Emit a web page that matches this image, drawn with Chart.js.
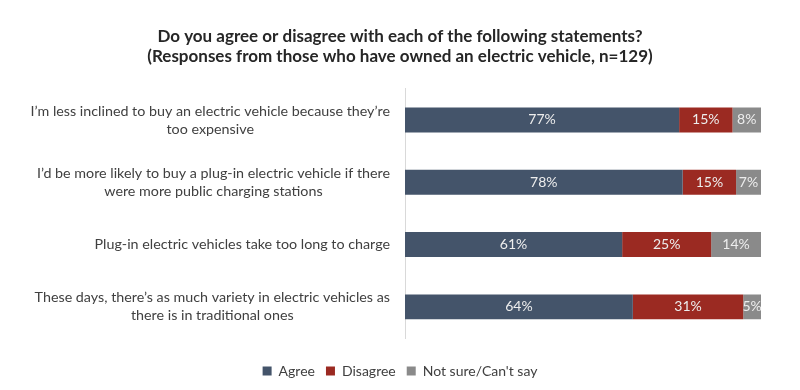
<!DOCTYPE html>
<html>
<head>
<meta charset="utf-8">
<script src="https://cdn.jsdelivr.net/npm/chart.js@4"></script>
<style>
  html, body { margin:0; padding:0; background:#fff; }
  #wrap { width:800px; height:390px; }
</style>
</head>
<body>
<div id="wrap"><canvas id="chart"></canvas></div>
<script>
const statements = [
  ['I’m less inclined to buy an electric vehicle because they’re', 'too expensive'],
  ['I’d be more likely to buy a plug-in electric vehicle if there', 'were more public charging stations'],
  ['Plug-in electric vehicles take too long to charge'],
  ['These days, there’s as much variety in electric vehicles as', 'there is in traditional ones']
];
const agree    = [77, 78, 61, 64];
const disagree = [15, 15, 25, 31];
const notSure  = [8, 7, 14, 5];
const titleLines = [
  'Do you agree or disagree with each of the following statements?',
  '(Responses from those who have owned an electric vehicle, n=129)'
];

const FONT = 'Lato';

// category labels: each block right aligned, lines centred inside the block
const catLabels = {
  id:'catLabels',
  afterDraw(chart){
    const ctx = chart.ctx, y = chart.scales.y;
    ctx.save();
    ctx.font = '14.3px ' + FONT;
    ctx.fillStyle = '#404040';
    ctx.textAlign = 'center';
    ctx.textBaseline = 'middle';
    const right = y.left + y.width - 15, lh = 18;
    statements.forEach((lines, i) => {
      const cy = y.getPixelForValue(i);
      const w = Math.max(...lines.map(l => ctx.measureText(l).width));
      const cx = right - w/2;
      const y0 = cy - (lines.length-1)*lh/2;
      lines.forEach((l, k) => ctx.fillText(l, cx, y0 + k*lh));
    });
    ctx.restore();
  }
};

// percentage labels inside segments
const segLabels = {
  id:'segLabels',
  afterDatasetsDraw(chart){
    const ctx = chart.ctx;
    ctx.save();
    ctx.font = '14px ' + FONT;
    ctx.fillStyle = '#ededed';
    ctx.textAlign = 'center';
    ctx.textBaseline = 'middle';
    chart.data.datasets.forEach((ds, di) => {
      chart.getDatasetMeta(di).data.forEach((bar, i) => {
        const p = bar.getCenterPoint();
        ctx.fillText(ds.data[i] + '%', p.x, p.y);
      });
    });
    ctx.restore();
  }
};

new Chart(document.getElementById('chart'), {
  type:'bar',
  data:{
    labels: statements.map(s => s.join(' ')),
    datasets:[
      {label:'Agree', data:agree, backgroundColor:'#44546a'},
      {label:'Disagree', data:disagree, backgroundColor:'#9b2a22'},
      {label:'Not sure/Can\'t say', data:notSure, backgroundColor:'#8a8a8a'}
    ]
  },
  options:{
    indexAxis:'y', responsive:true, maintainAspectRatio:false, animation:false,
    layout:{padding:{left:0, right:0, top:0, bottom:2}},
    datasets:{bar:{barPercentage:0.4, categoryPercentage:1, borderWidth:0}},
    scales:{
      x:{stacked:true, min:0, max:100, display:true,
         grid:{display:false}, border:{display:false}, ticks:{display:false},
         afterFit:(s)=>{ s.height = 15; }},
      y:{stacked:true, grid:{display:false},
         border:{color:'#d9d9d9', width:1},
         ticks:{display:false},
         afterFit:(s)=>{ s.width = 405; }},
      // empty right-hand spacer so the legend stays centred on the page
      yR:{type:'category', axis:'y', position:'right', display:true,
          grid:{display:false}, border:{display:false}, ticks:{display:false},
          afterFit:(s)=>{ s.width = 39; }}
    },
    plugins:{
      title:{display:true, text:titleLines, color:'#262626',
             font:{family:FONT, size:17, weight:'bold', lineHeight:1.2},
             padding:{top:26, bottom:22}},
      legend:{position:'bottom',
              labels:{font:{family:FONT, size:14}, color:'#404040',
                      boxWidth:9, boxHeight:9, padding:11}},
      tooltip:{enabled:false}
    }
  },
  plugins:[catLabels, segLabels]
});
</script>
</body>
</html>
